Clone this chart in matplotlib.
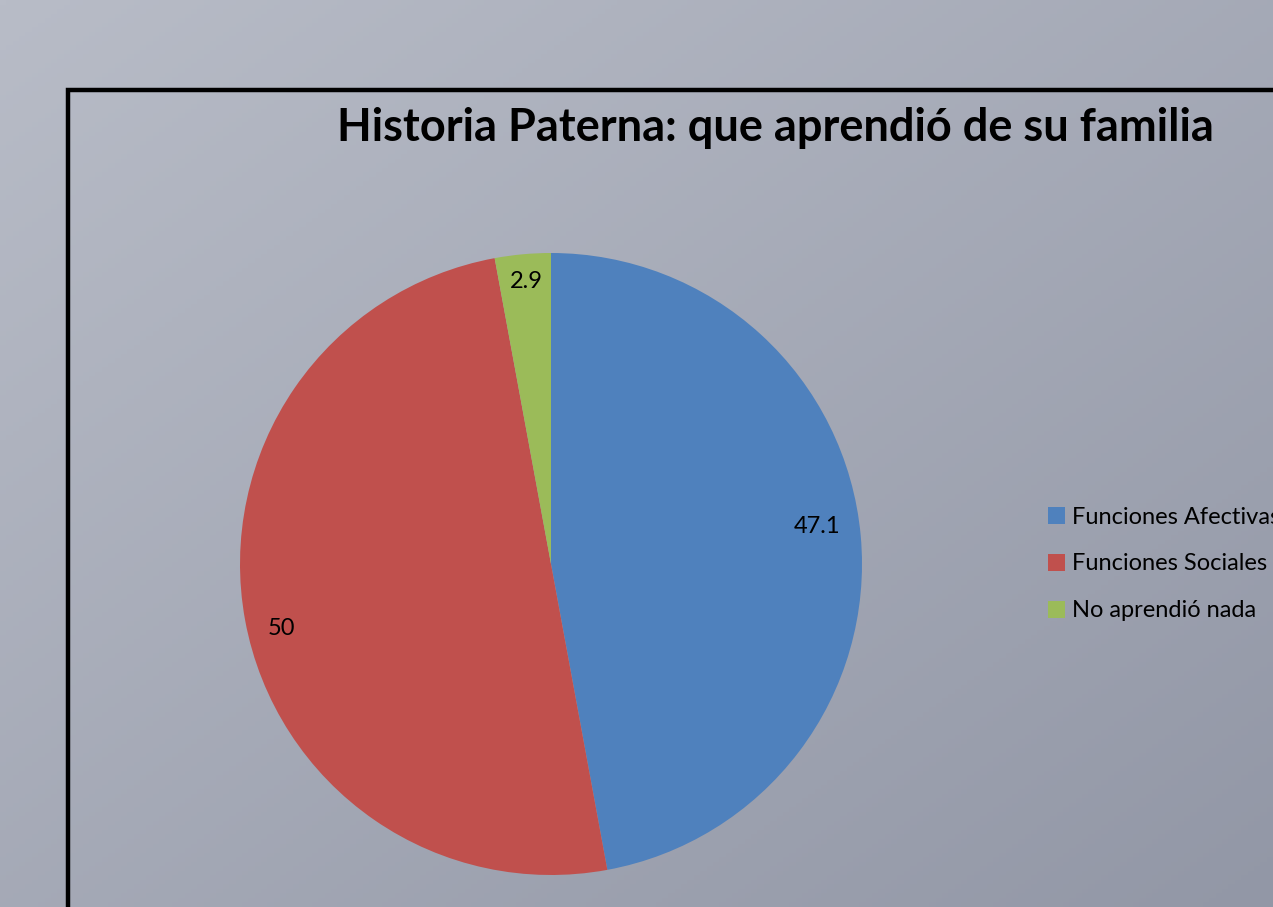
import numpy as np
import matplotlib
matplotlib.use("Agg")
import matplotlib.pyplot as plt
from matplotlib.lines import Line2D

categories = ["Funciones Afectivas", "Funciones Sociales", "No aprendió nada"]
values = [47.1, 50, 2.9]
colors = ["#4f81bd", "#c0504d", "#9bbb59"]
title = "Historia Paterna: que aprendió de su familia"

plt.rcParams['font.family'] = ['Lato', 'DejaVu Sans']

fig = plt.figure(figsize=(12.73, 9.07), dpi=100)

# diagonal gradient background
bg = fig.add_axes([0, 0, 1, 1], zorder=0)
yy, xx = np.mgrid[0:1:200j, 0:1:200j]
t = (xx + yy) / 2
c0 = np.array([184, 188, 199]) / 255
c1 = np.array([146, 151, 166]) / 255
img = c0[None, None, :] * (1 - t[..., None]) + c1[None, None, :] * t[..., None]
bg.imshow(img, extent=[0, 1, 0, 1], aspect='auto', origin='upper')
bg.axis('off')

# chart-area border (left and top edges visible)
fig.add_artist(Line2D([68/1273, 68/1273, 1.01], [-0.01, 1 - 90/907, 1 - 90/907],
                      transform=fig.transFigure, color='black', lw=3.2,
                      solid_joinstyle='miter', zorder=1))

fig.text(775/1273, 1 - 128/907, title, ha='center', va='center',
         fontsize=32.5, fontweight='bold', zorder=2)

ax = fig.add_axes([240/1273, 32/907, 622/1273, 622/907], zorder=2)
wedges, texts = ax.pie(values, colors=colors, startangle=90, counterclock=False,
                       labels=[f"{v:g}" for v in values], labeldistance=0.88,
                       textprops=dict(fontsize=17))
# best-fit label spots, as in the original
label_pos = [(0.855, 0.119), (-0.868, -0.209), (-0.080, 0.907)]
for tx, pos in zip(texts, label_pos):
    tx.set_position(pos)
    tx.set_ha('center')
    tx.set_va('center')
ax.set_aspect('equal')
ax.set_xlim(-1, 1)
ax.set_ylim(-1, 1)
ax.axis('off')

leg = fig.legend(wedges, categories, loc='center left',
                 bbox_to_anchor=(1031/1273, 1 - 564/907), frameon=False,
                 fontsize=17, handlelength=0.75, handleheight=0.75,
                 handletextpad=0.3, labelspacing=1.1, borderpad=0.2)

fig.savefig("out.png", dpi=100)
